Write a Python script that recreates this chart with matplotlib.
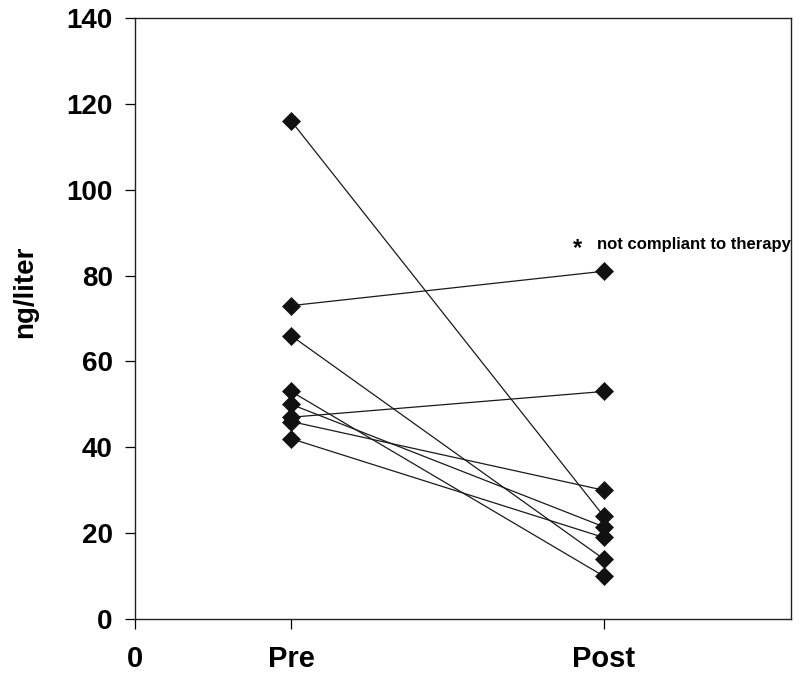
import matplotlib
matplotlib.use("Agg")
import matplotlib.pyplot as plt

# Data
pre_values = [116, 73, 66, 53, 50, 47, 46, 42]
post_values = [24, 81, 14, 10, 21.5, 53, 30, 19]
x_positions = [0, 1, 3]
x_labels = ["0", "Pre", "Post"]
y_ticks = [0, 20, 40, 60, 80, 100, 120, 140]
annotation = "not compliant to therapy"

plt.rcParams['font.family'] = ['Liberation Sans', 'DejaVu Sans']

fig = plt.figure(figsize=(8, 6.76), dpi=100)
ax = fig.add_axes([135/800, 1 - 619/676, (791-135)/800, (619-18)/676])

for a, b in zip(pre_values, post_values):
    ax.plot([x_positions[1], x_positions[2]], [a, b], color='#1a1a1a', lw=0.9,
            marker='D', ms=9, mfc='#111111', mec='#111111', mew=0.5, zorder=3)

ax.set_xlim(0, 4.2)
ax.set_ylim(0, 140)
ax.set_yticks(y_ticks)
ax.set_yticklabels([str(v) for v in y_ticks], fontsize=20, fontweight='bold')
ax.set_xticks(x_positions)
ax.set_xticklabels(x_labels, fontsize=21, fontweight='bold')
ax.tick_params(axis='y', direction='out', length=7, width=0.9, pad=9)
ax.tick_params(axis='x', direction='out', length=7, width=0.9, pad=12)
for s in ax.spines.values():
    s.set_linewidth(1.0)
    s.set_color('#222222')

ax.set_ylabel("ng/liter", fontsize=20, fontweight='bold')
ax.yaxis.set_label_coords(-0.148, (619 - 292) / 601)

ax.text(2.83, 86.3, "*", fontsize=17, fontweight='bold', ha='center', va='center')
ax.text(2.955, 87.2, annotation, fontsize=12, fontweight='bold', ha='left', va='center')

fig.savefig("out.png", dpi=100)
